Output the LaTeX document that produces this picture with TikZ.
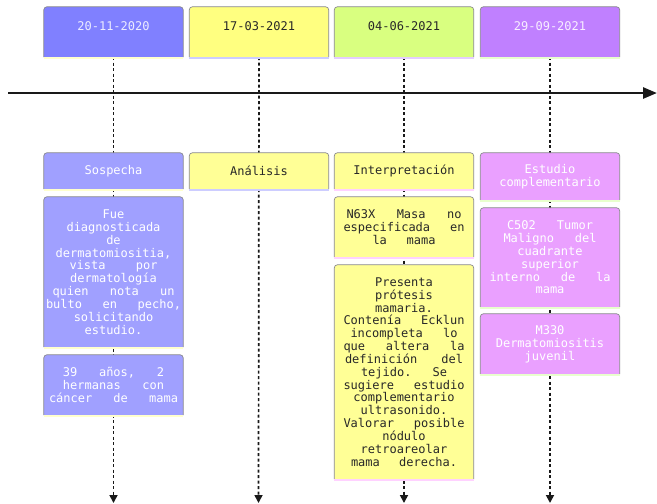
\documentclass[tikz,border=0pt]{standalone}
\usepackage{fontspec}
\setmonofont{DejaVu Sans Mono}
\usetikzlibrary{arrows.meta,backgrounds}

\definecolor{dateA}{RGB}{128,128,255}
\definecolor{evA}{RGB}{160,160,255}
\definecolor{dateB}{RGB}{255,255,128}
\definecolor{evB}{RGB}{255,255,150}
\definecolor{dateC}{RGB}{217,255,128}
\definecolor{dateD}{RGB}{192,128,255}
\definecolor{evD}{RGB}{234,160,255}
\definecolor{txA}{RGB}{236,236,255}
\definecolor{txD}{RGB}{248,238,255}
\definecolor{txDark}{RGB}{40,40,40}
\definecolor{accA}{RGB}{255,255,205}
\definecolor{accB}{RGB}{205,205,255}
\definecolor{accC}{RGB}{228,205,255}
\definecolor{accCev}{RGB}{255,210,255}
\definecolor{accD}{RGB}{232,255,205}
\definecolor{bordc}{RGB}{135,135,140}

\newcommand{\jl}[2]{\makebox[#1pt]{#2}}
\newcommand{\tlshape}[3]{%
  \draw[draw=bordc, line width=0.7pt, fill=#2, rounded corners=3pt]
    (#1.south west) -- (#1.north west) -- (#1.north east) -- (#1.south east);
  \draw[#3, line width=1.6pt] ([yshift=-0.8pt]#1.south west) -- ([yshift=-0.8pt]#1.south east);
}

\begin{document}
\begin{tikzpicture}[x=1pt,y=-1pt,
  every node/.style={font=\ttfamily\fontsize{12}{12.85}\selectfont},
  tlbox/.style={inner sep=2pt, text width=135pt, align=center, minimum width=139pt},
  datebox/.style={tlbox, minimum height=50pt, text height=4pt, text depth=7.2pt},
  secbox/.style={tlbox},
  conn/.style={black!90, line width=1.7pt, dash pattern=on 3pt off 2.5pt,
    -{Triangle[width=8pt,length=8pt]}},
  axisline/.style={black!90, line width=2.6pt, -{Triangle[width=11pt,length=14pt]}}
]
\useasboundingbox (0,0) rectangle (657,504);

% dates
\node[datebox, text=txA] (d1) at (113.5,32) {20-11-2020};
\node[datebox, text=txDark] (d2) at (259,32) {17-03-2021};
\node[datebox, text=txDark] (d3) at (404,32) {04-06-2021};
\node[datebox, text=txD] (d4) at (550,32) {29-09-2021};

% sections
\node[secbox, minimum height=36pt, text=white] (s1) at (113.5,171) {Sospecha};
\node[secbox, minimum height=36pt, text=txDark] (s2) at (259,171) {Análisis};
\node[secbox, minimum height=36pt, text=txDark] (s3) at (404,171) {Interpretación};
\node[secbox, minimum height=47pt, text=white] (s4) at (550,176.5) {Estudio\\complementario};

% events column 1
\node[tlbox, minimum height=150pt, text=white] (e11) at (113.5,272) {Fue\\
diagnosticada\\
de\\
dermatomiositia,\\
\jl{88}{vista\hfill por}\\
dermatología\\
\jl{122}{quien\hfill nota\hfill un}\\
\jl{135}{bulto\hfill en\hfill pecho,}\\
solicitando\\
estudio.};
\node[tlbox, minimum height=60pt, text=white] (e12) at (113.5,385) {\jl{101}{39\hfill años,\hfill 2}\\
\jl{101}{hermanas\hfill con}\\
\jl{129}{cáncer\hfill de\hfill mama}};

% events column 3
\node[tlbox, minimum height=60pt, text=txDark] (e31) at (404,227) {\jl{115}{N63X\hfill Masa\hfill no}\\
\jl{121}{especificada\hfill en}\\
\jl{63}{la\hfill mama}};
\node[tlbox, minimum height=214pt, text=txDark] (e32) at (404,372) {Presenta\\
prótesis\\
mamaria.\\
\jl{121}{Contenía\hfill Ecklun}\\
\jl{107}{incompleta\hfill lo}\\
\jl{121}{que\hfill altera\hfill la}\\
\jl{118}{definición\hfill del}\\
\jl{86}{tejido.\hfill Se}\\
\jl{121}{sugiere\hfill estudio}\\
complementario\\
ultrasonido.\\
\jl{121}{Valorar\hfill posible}\\
nódulo\\
retroareolar\\
\jl{106}{mama\hfill derecha.}};

% events column 4
\node[tlbox, minimum height=99pt, text=white] (e41) at (550,257.5) {\jl{86}{C502\hfill Tumor}\\
\jl{93}{Maligno\hfill del}\\
cuadrante\\
superior\\
\jl{121}{interno\hfill de\hfill la}\\
mama};
\node[tlbox, minimum height=60pt, text=white] (e42) at (550,344) {M330\\
Dermatomiositis\\
juvenil};

% end points
\coordinate (a0) at (8,93);
\coordinate (a1) at (657,93);
\coordinate (b1) at (113.5,503);
\coordinate (b2) at (258.5,503);
\coordinate (b3) at (404,503);
\coordinate (b4) at (550,503);

\begin{scope}[on background layer]
  \draw[conn] (d1.south) -- (b1);
  \draw[conn] (d2.south) -- (b2);
  \draw[conn] (d3.south) -- (b3);
  \draw[conn] (d4.south) -- (b4);
  \draw[axisline] (a0) -- (a1);
  \tlshape{d1}{dateA}{accA}
  \tlshape{d2}{dateB}{accB}
  \tlshape{d3}{dateC}{accC}
  \tlshape{d4}{dateD}{accD}
  \tlshape{s1}{evA}{accA}
  \tlshape{s2}{evB}{accB}
  \tlshape{s3}{evB}{accCev}
  \tlshape{s4}{evD}{accD}
  \tlshape{e11}{evA}{accA}
  \tlshape{e12}{evA}{accA}
  \tlshape{e31}{evB}{accCev}
  \tlshape{e32}{evB}{accCev}
  \tlshape{e41}{evD}{accD}
  \tlshape{e42}{evD}{accD}
\end{scope}
\end{tikzpicture}
\end{document}
